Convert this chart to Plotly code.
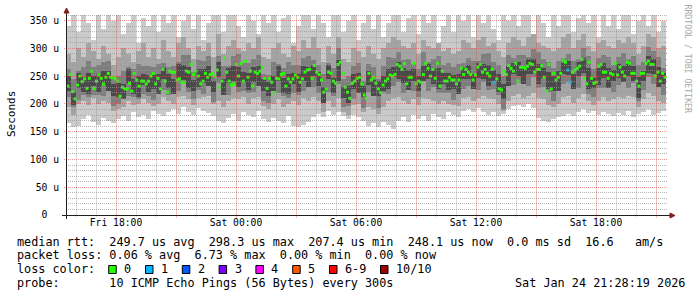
import plotly.graph_objects as go
import pandas as pd

# ---------------- data ----------------
RANGE_START = "2026-01-23 15:30"
RANGE_END = "2026-01-24 21:36"

# median rtt (microseconds), one value per plotted median mark
median_first = "2026-01-23 15:36"
median_last = "2026-01-24 21:27"
median_rtt = [
    232, 253, 222, 209, 234, 250, 240, 245, 228, 246, 259, 228, 241, 252, 246, 236, 248, 255, 248, 248, 245, 241, 214, 230,
    227, 227, 237, 223, 255, 243, 232, 241, 241, 236, 241, 250, 255, 236, 246, 227, 262, 241, 221, 259, 257, 257, 243, 245,
    239, 239, 259, 257, 271, 253, 259, 250, 236, 241, 255, 248, 253, 255, 250, 261, 230, 241,
    282, 257, 241, 234, 236, 271, 250, 273, 241, 277, 248, 259, 232, 257, 255, 259, 266, 246, 228, 246,
    239, 220, 246, 245, 253, 255, 232, 245, 239, 245, 252, 248, 239, 245, 257, 261, 262, 246, 269, 257,
    253, 243, 221, 227, 257, 255, 241, 237, 271, 275, 255, 230, 221, 210, 237, 241, 246, 248, 236, 216,
    210, 255,
    243, 248, 237, 227, 220, 234, 241, 245, 252, 250, 253, 271, 268, 262, 273, 236, 248, 248, 273, 236,
    241, 239, 253, 273, 264, 250, 262, 246, 273, 232, 259, 241, 241, 248, 243, 243, 236, 243, 264, 253,
    262, 257, 253, 243, 252, 266, 271, 257, 262, 255, 250, 262, 239, 245, 227, 225, 259, 253, 269, 264,
    259,
    273, 241, 266, 266, 264, 268, 273, 271, 257, 262, 262, 269, 248, 223, 271, 227, 255, 243, 248, 255,
    279, 275, 261, 239, 257, 261, 264, 268, 280, 246, 236, 275, 246, 237, 239, 268, 271, 257, 257, 246,
    255, 253, 273, 252, 266, 257, 250, 275, 273, 255, 255, 241, 232, 255, 255, 273, 277, 271, 271, 250,
    257, 241, 255, 248,
]
# (index of median mark, number of lost pings)
loss_events = [(180, 1), (211, 1), (212, 1)]

# smoke (ping spread), 15-minute columns, microseconds
smoke_first = "2026-01-23 15:37:30"
smoke_step_min = 15
smoke_outer_hi = [
    340, 360, 330, 360, 345, 315, 360, 335, 360, 350,
    360, 325, 345, 360, 310, 355, 340, 360, 330, 360,
    345, 360, 320, 350, 360, 335, 360, 315, 345, 360,
    360, 330, 360, 360, 340, 320, 360, 350, 325, 360,
    345, 360, 330, 355, 360, 310, 340, 360, 360, 335,
    360, 345, 320, 360, 360, 330, 350, 360, 315, 345,
    360, 335, 360, 320, 345, 360, 360, 330, 355, 360,
    325, 360, 345, 360, 310, 340, 360, 330, 360, 350,
    360, 320, 360, 345, 360, 335, 315, 360, 350, 360,
    340, 360, 360, 325, 360, 345, 320, 360, 340, 360,
    360, 330, 355, 360, 345, 360, 320, 360, 340, 360,
    335, 360, 360, 325, 350, 360, 340, 360, 330, 350,
]
smoke_outer_lo = [
    165, 158, 160, 172, 180, 168, 162, 175, 170, 166,
    172, 178, 170, 185, 176, 180, 172, 188, 182, 178,
    185, 190, 182, 194, 186, 180, 192, 188, 184, 178,
    170, 166, 175, 182, 170, 186, 180, 176, 188, 172,
    168, 175, 170, 165, 178, 160, 158, 162, 168, 176,
    182, 176, 188, 180, 185, 178, 172, 180, 176, 170,
    160, 165, 158, 168, 162, 155, 170, 176, 168, 180,
    172, 178, 170, 182, 176, 172, 185, 180, 176, 188,
    190, 186, 192, 185, 180, 186, 178, 182, 190, 196,
    198, 194, 200, 192, 175, 170, 168, 172, 176, 178,
    182, 178, 186, 190, 184, 188, 180, 186, 182, 178,
    184, 180, 188, 176, 182, 186, 190, 180, 184, 188,
]
smoke_mid_hi = [
    290, 275, 300, 285, 310, 295, 280, 305, 290, 270,
    285, 300, 290, 275, 295, 310, 285, 300, 280, 315,
    295, 285, 310, 320, 300, 280, 305, 295, 310, 285,
    325, 290, 305, 315, 300, 295, 310, 300, 320, 285,
    280, 300, 310, 290, 285, 305, 295, 315, 300, 320,
    300, 275, 305, 290, 320, 280, 275, 300, 295, 285,
    305, 290, 280, 300, 310, 320, 315, 305, 300, 310,
    290, 315, 305, 300, 310, 295, 300, 290, 295, 315,
    310, 300, 315, 320, 305, 310, 295, 285, 310, 320,
    315, 305, 320, 325, 310, 305, 300, 295, 300, 320,
    325, 300, 315, 325, 305, 295, 310, 315, 305, 300,
    315, 310, 320, 310, 290, 305, 325, 320, 300, 305,
]
smoke_mid_lo = [
    195, 180, 200, 205, 198, 210, 200, 206, 202, 188,
    190, 195, 205, 198, 200, 208, 202, 196, 200, 212,
    205, 200, 212, 215, 208, 198, 210, 212, 215, 200,
    205, 195, 205, 210, 208, 212, 200, 210, 212, 196,
    190, 200, 208, 195, 200, 205, 198, 210, 205, 212,
    205, 185, 205, 195, 210, 185, 180, 198, 200, 185,
    195, 190, 182, 195, 205, 210, 212, 205, 200, 208,
    198, 210, 208, 205, 200, 205, 200, 198, 196, 210,
    212, 205, 210, 215, 210, 208, 200, 188, 205, 215,
    218, 210, 215, 220, 210, 208, 198, 195, 200, 212,
    215, 202, 210, 218, 205, 198, 205, 212, 205, 208,
    212, 210, 215, 212, 195, 208, 220, 215, 205, 202,
]
smoke_inner_hi = [
    262, 245, 259, 266, 277, 266, 270, 275, 278, 244,
    250, 260, 267, 262, 272, 268, 269, 267, 272, 273,
    266, 269, 276, 288, 288, 258, 279, 278, 287, 251,
    287, 268, 268, 286, 289, 273, 273, 281, 288, 253,
    252, 275, 272, 264, 276, 270, 270, 283, 286, 279,
    270, 254, 274, 265, 301, 245, 250, 268, 274, 241,
    272, 267, 245, 269, 285, 282, 293, 279, 280, 271,
    262, 293, 275, 280, 286, 270, 273, 267, 272, 274,
    282, 278, 277, 290, 292, 276, 270, 250, 288, 282,
    288, 288, 284, 298, 294, 280, 275, 265, 278, 283,
    290, 278, 280, 300, 286, 262, 282, 288, 284, 270,
    284, 292, 280, 287, 270, 275, 303, 295, 285, 264,
]
smoke_inner_lo = [
    212, 195, 207, 216, 212, 216, 216, 215, 224, 196,
    200, 210, 215, 212, 208, 218, 215, 207, 218, 225,
    216, 219, 224, 238, 222, 208, 225, 218, 233, 203,
    237, 218, 216, 236, 222, 223, 219, 221, 234, 205,
    202, 225, 220, 214, 210, 220, 216, 223, 232, 231,
    220, 204, 222, 215, 235, 195, 196, 208, 220, 193,
    222, 217, 193, 219, 218, 232, 239, 219, 226, 223,
    212, 243, 223, 230, 220, 220, 219, 207, 218, 226,
    232, 228, 225, 240, 225, 226, 216, 190, 234, 234,
    238, 238, 232, 248, 228, 230, 221, 205, 224, 235,
    240, 228, 228, 250, 218, 212, 228, 228, 230, 222,
    234, 242, 228, 237, 205, 225, 249, 235, 231, 216,
]
smoke_core_hi = [
    250, 221, 255, 248, 255, 251, 253, 260, 259, 235,
    238, 236, 263, 244, 250, 253, 252, 252, 253, 264,
    254, 245, 272, 270, 266, 243, 262, 263, 268, 242,
    275, 244, 264, 268, 267, 258, 256, 266, 269, 244,
    240, 251, 268, 246, 254, 255, 253, 268, 267, 270,
    258, 230, 270, 247, 279, 230, 233, 253, 255, 232,
    260, 243, 241, 251, 263, 267, 276, 264, 261, 262,
    250, 269, 271, 262, 264, 255, 256, 252, 253, 265,
    270, 254, 273, 272, 270, 261, 253, 235, 269, 273,
    276, 264, 280, 280, 272, 265, 258, 250, 259, 274,
    278, 254, 276, 282, 264, 247, 265, 273, 265, 261,
    272, 268, 276, 269, 248, 260, 286, 280, 266, 255,
]
smoke_core_lo = [
    224, 198, 229, 221, 218, 232, 222, 234, 223, 215,
    212, 208, 237, 217, 213, 234, 221, 226, 217, 244,
    228, 217, 246, 243, 229, 224, 231, 237, 232, 222,
    249, 216, 238, 241, 230, 239, 225, 240, 233, 224,
    214, 223, 242, 219, 217, 236, 222, 242, 231, 250,
    232, 202, 244, 220, 242, 211, 202, 227, 219, 212,
    234, 215, 215, 224, 226, 248, 245, 238, 225, 242,
    224, 241, 245, 235, 227, 236, 225, 226, 217, 245,
    244, 226, 247, 245, 233, 242, 222, 209, 233, 253,
    250, 236, 254, 253, 235, 246, 227, 224, 223, 254,
    252, 226, 250, 255, 227, 228, 234, 247, 229, 241,
    246, 240, 250, 242, 211, 241, 255, 254, 230, 235,
]

x_tick_times = ["2026-01-23 18:00", "2026-01-23 21:00", "2026-01-24 00:00", "2026-01-24 03:00",
                "2026-01-24 06:00", "2026-01-24 09:00", "2026-01-24 12:00", "2026-01-24 15:00",
                "2026-01-24 18:00", "2026-01-24 21:00"]
x_tick_text = ["Fri 18:00", "", "Sat 00:00", "", "Sat 06:00", "", "Sat 12:00", "", "Sat 18:00", ""]
y_tick_vals = [0, 50, 100, 150, 200, 250, 300, 350]
y_tick_text = ["0  ", "50 u", "100 u", "150 u", "200 u", "250 u", "300 u", "350 u"]

loss_labels = ["0", "1", "2", "3", "4", "5", "6-9", "10/10"]
loss_colors = ["#26ff00", "#00b8ff", "#0059ff", "#7e00ff", "#ff00ff", "#ff5500", "#ff0000", "#a10000"]

stats_line_rtt = "median rtt:  249.7 us avg  298.3 us max  207.4 us min  248.1 us now  0.0 ms sd  16.6   am/s"
stats_line_loss = "packet loss: 0.06 % avg  6.73 % max  0.00 % min  0.00 % now"
loss_title = "loss color:"
probe_line = "probe:       10 ICMP Echo Pings (56 Bytes) every 300s"
date_line = "Sat Jan 24 21:28:19 2026"
y_title = "Seconds"
side_text = "RRDTOOL / TOBI OETIKER"

# ---------------- layout helpers ----------------
W, H = 697, 297
ML, MR, MT, MB = 66, 29, 15, 82
PW, PH = W - ML - MR, H - MT - MB
MONO = "DejaVu Sans Mono"
X0_TIME = pd.Timestamp(RANGE_START)
X1_TIME = pd.Timestamp(RANGE_END)
Y_MAX = 360
HALF_PX_TIME = (X1_TIME - X0_TIME) / PW / 2   # shift that puts a 1px line on a pixel centre


def px_x(px):
    return (px - ML) / PW


def px_y(py):
    return (H - MB - py) / PH


def crisp(p):
    return int(p) + 0.5


def val_to_py(v):
    return H - MB - v / Y_MAX * PH


def nb(s):
    return s.replace(" ", "\u00a0")


fig = go.Figure()

# smoke layers
smoke_t = pd.date_range(smoke_first, periods=len(smoke_outer_hi), freq=f"{smoke_step_min}min")
step_ms = smoke_step_min * 60 * 1000
layers = [
    (smoke_outer_lo, smoke_outer_hi, "#cacaca"),
    (smoke_mid_lo, smoke_mid_hi, "#a4a4a4"),
    (smoke_inner_lo, smoke_inner_hi, "#7e7e7e"),
    (smoke_core_lo, smoke_core_hi, "#4a4a4a"),
]
for lo, hi, col in layers:
    fig.add_trace(go.Bar(
        x=smoke_t, y=[h - l for l, h in zip(lo, hi)], base=lo, width=step_ms,
        marker=dict(color=col, line=dict(width=0)), hoverinfo="skip", showlegend=False,
    ))

# median marks
median_t = pd.date_range(median_first, median_last, periods=len(median_rtt))
loss_per_mark = [0] * len(median_rtt)
for idx, lost in loss_events:
    loss_per_mark[idx] = lost
mark_colors = [loss_colors[min(l, 6) if l < 10 else 7] for l in loss_per_mark]
fig.add_trace(go.Scatter(
    x=median_t, y=median_rtt, mode="markers",
    marker=dict(symbol="square", size=3, color=mark_colors, line=dict(width=0)),
    hoverinfo="skip", showlegend=False,
))

shapes = []
minor_col = "rgba(150,150,150,0.7)"
major_col = "rgba(222,79,79,0.6)"
# vertical lines: solid but lighter, which reads like a 1-on/1-off dotted line
minor_col_v = "rgba(150,150,150,0.33)"
major_col_v = "rgba(222,79,79,0.36)"
dash = "1px,1px"
hours = pd.date_range("2026-01-23 16:00", "2026-01-24 21:00", freq="1h")
for major_pass in (False, True):
    for h in hours:
        is_major = (h.hour % 3 == 0)
        if is_major != major_pass:
            continue
        xh = h + HALF_PX_TIME
        shapes.append(dict(type="line", xref="x", yref="paper", x0=xh, x1=xh,
                           y0=px_y(218 if is_major else 217), y1=px_y(15),
                           line=dict(color=major_col_v if is_major else minor_col_v, width=1),
                           layer="above"))
    for v in range(10, Y_MAX + 1, 10):
        is_major = (v % 50 == 0)
        if is_major != major_pass:
            continue
        yp = px_y(crisp(val_to_py(v)))
        shapes.append(dict(type="line", xref="paper", yref="paper", x0=px_x(64 if is_major else 66), x1=1,
                           y0=yp, y1=yp,
                           line=dict(color=major_col if is_major else minor_col, width=1, dash=dash),
                           layer="above"))

axis_col = "#1f1f1f"
arrow_col = "#801f1f"
# axes
shapes.append(dict(type="line", xref="paper", yref="paper", x0=px_x(62), x1=px_x(671),
                   y0=px_y(215.5), y1=px_y(215.5), line=dict(color=axis_col, width=1), layer="above"))
shapes.append(dict(type="line", xref="paper", yref="paper", x0=px_x(66.5), x1=px_x(66.5),
                   y0=px_y(219), y1=px_y(11), line=dict(color=axis_col, width=1), layer="above"))
# arrows
shapes.append(dict(type="path", xref="paper", yref="paper",
                   path=f"M {px_x(670)},{px_y(213)} L {px_x(675)},{px_y(215.5)} L {px_x(670)},{px_y(218)} Z",
                   fillcolor=arrow_col, line=dict(color=arrow_col, width=1), layer="above"))
shapes.append(dict(type="path", xref="paper", yref="paper",
                   path=f"M {px_x(64)},{px_y(13)} L {px_x(66.5)},{px_y(8)} L {px_x(69)},{px_y(13)} Z",
                   fillcolor=arrow_col, line=dict(color=arrow_col, width=1), layer="above"))

annotations = []
FS = 11.8
CW = 7.1
TX = 15
line_y = [241.7, 255.2, 269.3, 283.3]


def add_text(text, px, py, size=FS, color="#000000", xanchor="left", angle=0):
    annotations.append(dict(text=nb(text), xref="paper", yref="paper", x=px_x(px), y=px_y(py),
                            xanchor=xanchor, yanchor="middle", showarrow=False, textangle=angle,
                            font=dict(family=MONO, size=size, color=color)))


add_text(stats_line_rtt, TX, line_y[0])
add_text(stats_line_loss, TX, line_y[1])
add_text(loss_title, TX, line_y[2])
add_text(probe_line, TX, line_y[3])
add_text(date_line, 512.5, line_y[3])

# loss color legend squares
sq_x = 108.7
for lab, col in zip(loss_labels, loss_colors):
    shapes.append(dict(type="rect", xref="paper", yref="paper",
                       x0=px_x(sq_x), x1=px_x(sq_x + 7.5), y0=px_y(273.5), y1=px_y(265.5),
                       fillcolor=col, line=dict(color="#000000", width=1), layer="above"))
    add_text(lab, sq_x + 13.5, line_y[2])
    sq_x = sq_x + 14.5 + len(lab) * CW + 15.2

add_text(y_title, 11, 114, size=11, xanchor="center", angle=-90)
add_text(side_text, 687.5, 59, size=8.2, color="#a8a8a8", xanchor="center", angle=90)

tickfont = dict(family=MONO, size=9.7, color="#000000")
fig.update_layout(
    width=W, height=H,
    margin=dict(l=ML, r=MR, t=MT, b=MB, pad=0),
    paper_bgcolor="#ffffff", plot_bgcolor="#ffffff",
    barmode="overlay", bargap=0, showlegend=False,
    shapes=shapes, annotations=annotations,
    xaxis=dict(type="date", range=[RANGE_START, RANGE_END], showgrid=False, zeroline=False,
               showline=False, tickmode="array", tickvals=x_tick_times, ticktext=x_tick_text,
               ticks="", tickfont=tickfont, fixedrange=True),
    yaxis=dict(range=[0, Y_MAX], showgrid=False, zeroline=False, showline=False,
               tickmode="array", tickvals=y_tick_vals, ticktext=[nb(t) for t in y_tick_text],
               ticks="", ticklabelstandoff=6, tickfont=tickfont, fixedrange=True),
)

fig.write_html("out.html")
